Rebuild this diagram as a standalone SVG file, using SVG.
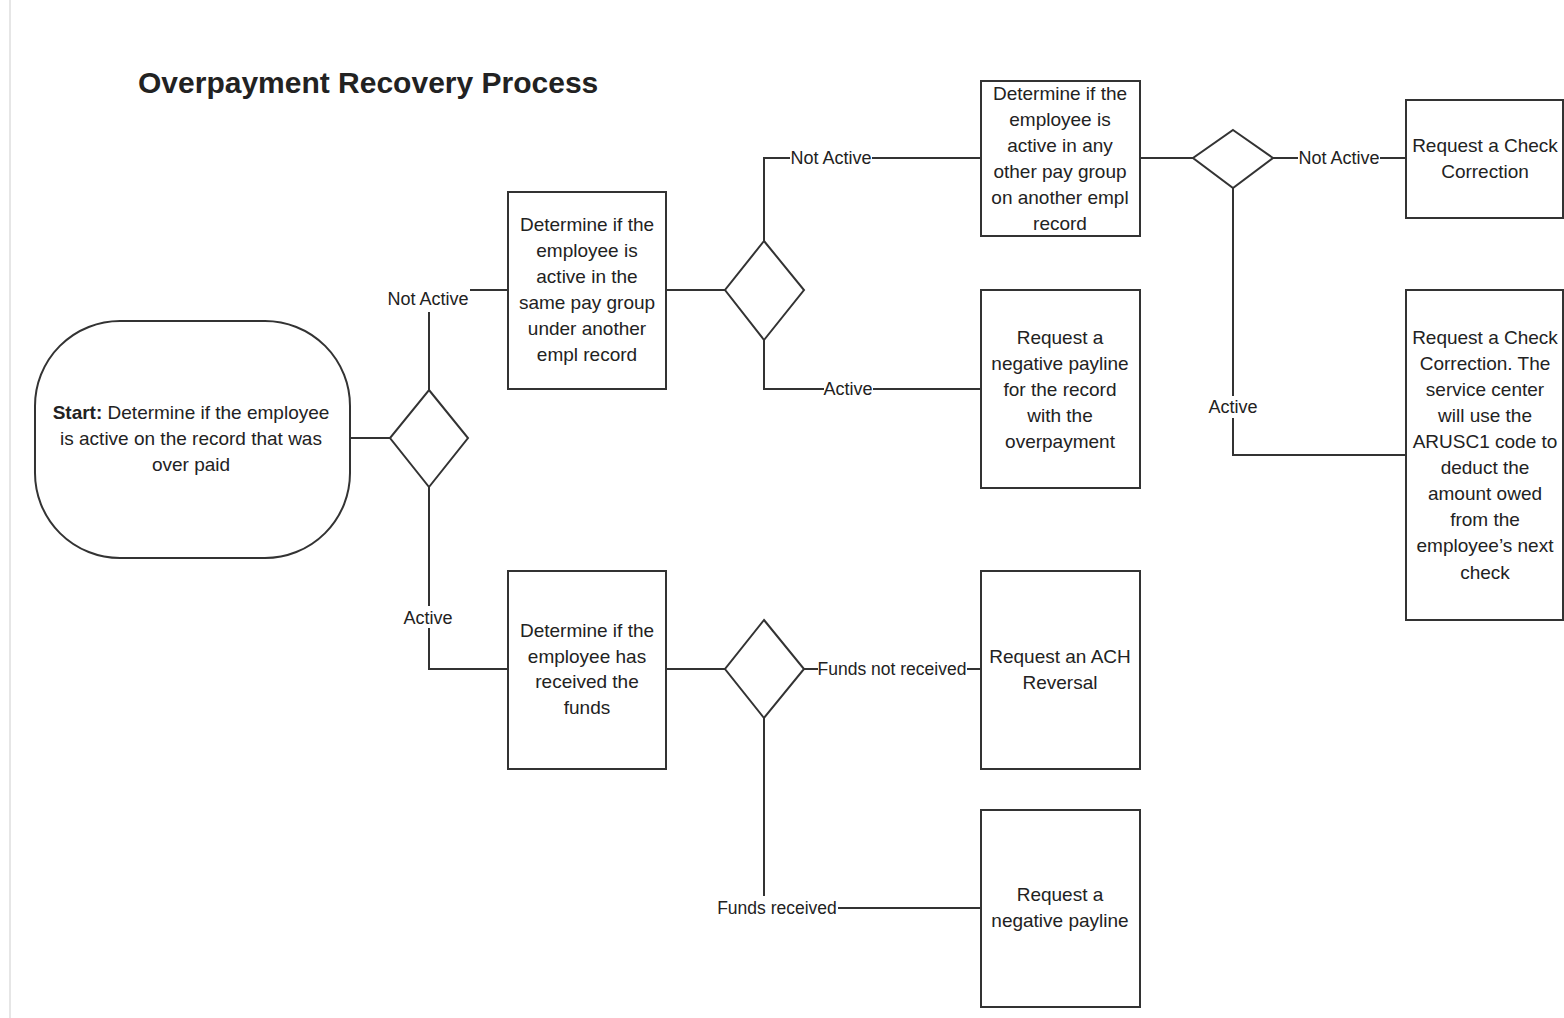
<svg xmlns="http://www.w3.org/2000/svg" width="1564" height="1018" viewBox="0 0 1564 1018">
<style>
.n{fill:#fff;stroke:#333;stroke-width:2}
.c{fill:none;stroke:#333;stroke-width:2}
.bg{fill:#fff}
text{font-family:"Liberation Sans",Arial,sans-serif;fill:#222}
.t{font-size:19px;text-anchor:middle}
.l{font-size:18px;text-anchor:middle}
.f{font-size:17.5px;text-anchor:middle}
</style>
<rect width="1564" height="1018" fill="#fff"/>
<line x1="10" y1="0" x2="10" y2="1018" stroke="#e6e6e6" stroke-width="2"/>
<text x="138" y="93" font-size="30" font-weight="bold" fill="#111">Overpayment Recovery Process</text>
<g id="connectors">
<path class="c" d="M350 438H390"/>
<path class="c" d="M429 390V290H508"/>
<path class="c" d="M429 487V669H508"/>
<path class="c" d="M666 290H725"/>
<path class="c" d="M764 241V158H981"/>
<path class="c" d="M764 340V389H981"/>
<path class="c" d="M1140 158H1193"/>
<path class="c" d="M1273 158H1406"/>
<path class="c" d="M1233 188V455H1406"/>
<path class="c" d="M666 669H725"/>
<path class="c" d="M804 669H981"/>
<path class="c" d="M764 718V908H981"/>
<rect class="bg" x="387" y="285" width="83" height="27"/>
<rect class="bg" x="404" y="606" width="49" height="22"/>
<rect class="bg" x="790" y="148" width="82" height="20"/>
<rect class="bg" x="824" y="379" width="49" height="20"/>
<rect class="bg" x="1298" y="148" width="82" height="20"/>
<rect class="bg" x="1208" y="396" width="50" height="22"/>
<rect class="bg" x="818" y="659" width="149" height="20"/>
<rect class="bg" x="717" y="896" width="121" height="22"/>
<text class="l" x="428" y="305">Not Active</text>
<text class="l" x="428" y="624">Active</text>
<text class="l" x="831" y="164">Not Active</text>
<text class="l" x="848" y="395">Active</text>
<text class="l" x="1339" y="164">Not Active</text>
<text class="l" x="1233" y="413">Active</text>
<text class="f" x="892" y="675">Funds not received</text>
<text class="f" x="777" y="914">Funds received</text>
</g>
<g id="start">
<rect class="n" x="35" y="321" width="315" height="237" rx="85" ry="85"/>
<text class="t" x="191" y="419"><tspan font-weight="bold">Start:</tspan> Determine if the employee</text>
<text class="t" x="191" y="445">is active on the record that was</text>
<text class="t" x="191" y="471">over paid</text>
</g>
<g id="d1"><polygon class="n" points="429,390 468,438 429,487 390,438"/></g>
<g id="same-pay-group">
<rect class="n" x="508" y="192" width="158" height="197"/>
<text class="t" x="587" y="231">Determine if the</text>
<text class="t" x="587" y="257">employee is</text>
<text class="t" x="587" y="283">active in the</text>
<text class="t" x="587" y="309">same pay group</text>
<text class="t" x="587" y="335">under another</text>
<text class="t" x="587" y="361">empl record</text>
</g>
<g id="d2"><polygon class="n" points="764,241 804,290 764,340 725,290"/></g>
<g id="other-pay-group">
<rect class="n" x="981" y="81" width="159" height="155"/>
<text class="t" x="1060" y="100">Determine if the</text>
<text class="t" x="1060" y="126">employee is</text>
<text class="t" x="1060" y="152">active in any</text>
<text class="t" x="1060" y="178">other pay group</text>
<text class="t" x="1060" y="204">on another empl</text>
<text class="t" x="1060" y="230">record</text>
</g>
<g id="neg-payline-record">
<rect class="n" x="981" y="290" width="159" height="198"/>
<text class="t" x="1060" y="344">Request a</text>
<text class="t" x="1060" y="370">negative payline</text>
<text class="t" x="1060" y="396">for the record</text>
<text class="t" x="1060" y="422">with the</text>
<text class="t" x="1060" y="448">overpayment</text>
</g>
<g id="d3"><polygon class="n" points="1233,130 1273,158 1233,188 1193,158"/></g>
<g id="check-correction">
<rect class="n" x="1406" y="100" width="157" height="118"/>
<text class="t" x="1485" y="152">Request a Check</text>
<text class="t" x="1485" y="178">Correction</text>
</g>
<g id="check-correction-arusc1">
<rect class="n" x="1406" y="290" width="157" height="330"/>
<text class="t" x="1485" y="344">Request a Check</text>
<text class="t" x="1485" y="370">Correction. The</text>
<text class="t" x="1485" y="396">service center</text>
<text class="t" x="1485" y="422">will use the</text>
<text class="t" x="1485" y="448">ARUSC1 code to</text>
<text class="t" x="1485" y="474">deduct the</text>
<text class="t" x="1485" y="500">amount owed</text>
<text class="t" x="1485" y="526">from the</text>
<text class="t" x="1485" y="552">employee’s next</text>
<text class="t" x="1485" y="579">check</text>
</g>
<g id="received-funds">
<rect class="n" x="508" y="571" width="158" height="198"/>
<text class="t" x="587" y="637">Determine if the</text>
<text class="t" x="587" y="663">employee has</text>
<text class="t" x="587" y="688">received the</text>
<text class="t" x="587" y="714">funds</text>
</g>
<g id="d4"><polygon class="n" points="764,620 804,669 764,718 725,669"/></g>
<g id="ach-reversal">
<rect class="n" x="981" y="571" width="159" height="198"/>
<text class="t" x="1060" y="663">Request an ACH</text>
<text class="t" x="1060" y="689">Reversal</text>
</g>
<g id="neg-payline">
<rect class="n" x="981" y="810" width="159" height="197"/>
<text class="t" x="1060" y="901">Request a</text>
<text class="t" x="1060" y="927">negative payline</text>
</g>
</svg>
